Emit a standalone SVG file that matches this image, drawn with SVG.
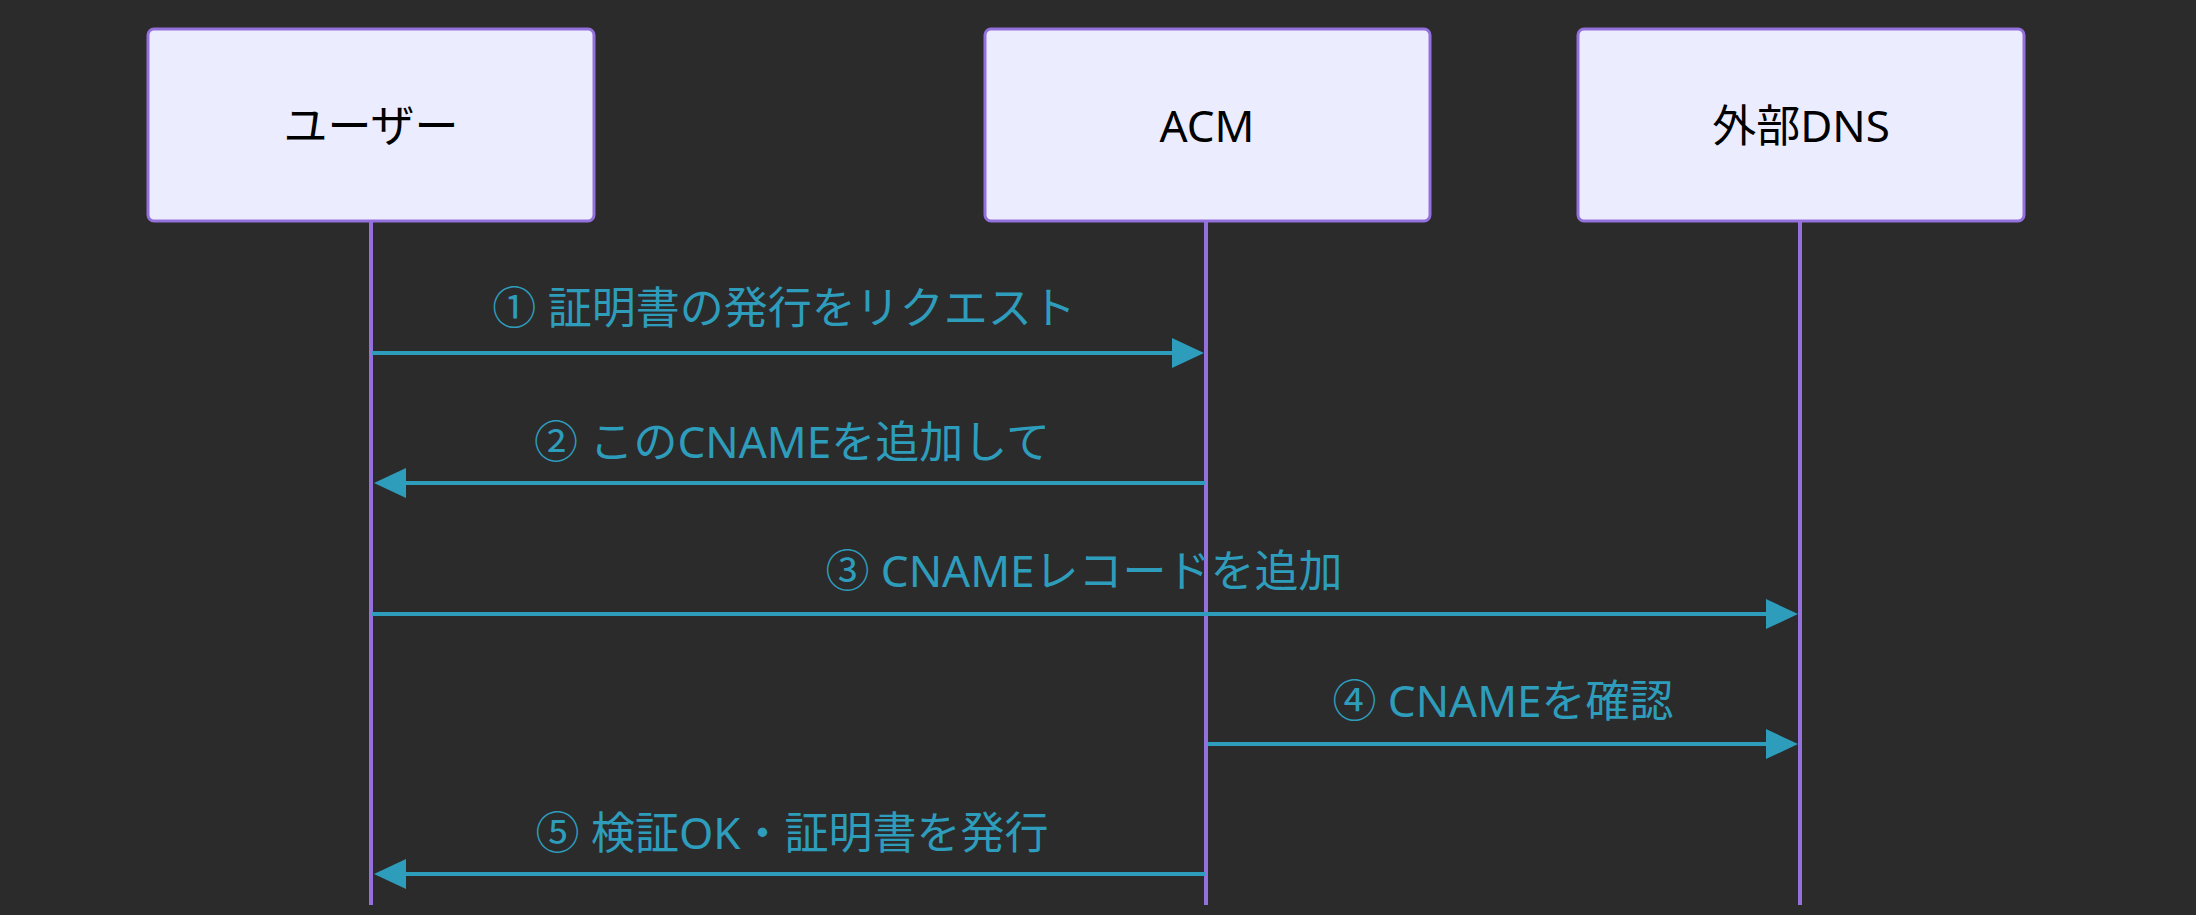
<svg xmlns="http://www.w3.org/2000/svg" width="2196" height="915" viewBox="0 0 2196 915">
<style>
.box{fill:#ECECFF;stroke:#9370DB;stroke-width:3}
.nt{font-family:"Noto Sans","Noto Sans CJK JP",sans-serif;font-size:44px;fill:#000;text-anchor:middle;dominant-baseline:central}
.life{stroke:#9370DB;stroke-width:4}
.msg{stroke:#2E9CBB;stroke-width:4;fill:none}
.lt{font-family:"Noto Sans","Noto Sans CJK JP",sans-serif;font-size:44px;fill:#2E9CBB;text-anchor:middle;dominant-baseline:central}
</style>
<defs>
<marker id="ah" viewBox="0 0 12 12" refX="12" refY="6" markerWidth="8" markerHeight="8" markerUnits="userSpaceOnUse" orient="auto" style="overflow:visible">
<path d="M0,0 L12,6 L0,12 z" fill="#2E9CBB" transform="scale(2.7)"/>
</marker>
</defs>
<rect width="2196" height="915" fill="#2B2B2B"/>
<g id="lifelines">
<line class="life" x1="371" y1="221" x2="371" y2="905"/>
<line class="life" x1="1206" y1="221" x2="1206" y2="905"/>
<line class="life" x1="1800" y1="221" x2="1800" y2="905"/>
</g>
<g id="user"><rect class="box" x="148" y="29" width="446" height="192" rx="6"/><text class="nt" x="371" y="125">ユーザー</text></g>
<g id="acm"><rect class="box" x="985" y="29" width="445" height="192" rx="6"/><text class="nt" x="1207" y="125">ACM</text></g>
<g id="dns"><rect class="box" x="1578" y="29" width="446" height="192" rx="6"/><text class="nt" x="1801" y="125">外部DNS</text></g>
<g id="connectors">
<path class="msg" d="M372,353 H1174"/><path d="M1172,338 L1204,353 L1172,368 z" fill="#2E9CBB"/>
<path class="msg" d="M1205,483 H404"/><path d="M406,468 L374,483 L406,498 z" fill="#2E9CBB"/>
<path class="msg" d="M372,614 H1768"/><path d="M1766,599 L1798,614 L1766,629 z" fill="#2E9CBB"/>
<path class="msg" d="M1208,744 H1768"/><path d="M1766,729 L1798,744 L1766,759 z" fill="#2E9CBB"/>
<path class="msg" d="M1205,874 H404"/><path d="M406,859 L374,874 L406,889 z" fill="#2E9CBB"/>
<text class="lt" x="784" y="307">① 証明書の発行をリクエスト</text>
<text class="lt" x="792" y="441">② このCNAMEを追加して</text>
<text class="lt" x="1084" y="570">③ CNAMEレコードを追加</text>
<text class="lt" x="1503" y="700">④ CNAMEを確認</text>
<text class="lt" x="792" y="832">⑤ 検証OK・証明書を発行</text>
</g>
</svg>
